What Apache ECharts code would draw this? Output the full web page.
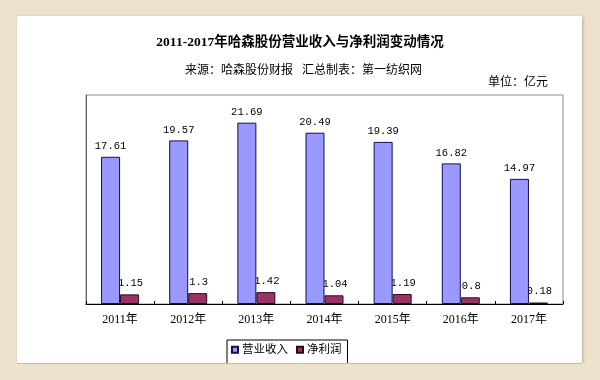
<!DOCTYPE html>
<html>
<head>
<meta charset="utf-8">
<script src="https://cdn.jsdelivr.net/npm/echarts@6/dist/echarts.min.js"></script>
<style>html,body{margin:0;padding:0;background:#efe2cc;}#c{width:600px;height:380px;}</style>
</head>
<body>
<div id="c"></div>
<script>
const categories = ['2011年','2012年','2013年','2014年','2015年','2016年','2017年'];
const revenue = [17.61, 19.57, 21.69, 20.49, 19.39, 16.82, 14.97];
const netProfit = [1.15, 1.3, 1.42, 1.04, 1.19, 0.8, 0.18];
const seriesNames = ['营业收入', '净利润'];
const titleText = '2011-2017年哈森股份营业收入与净利润变动情况';
const subText = '来源：哈森股份财报   汇总制表：第一纺织网';
const unitText = '单位：亿元';

const serif = "'Liberation Serif','Noto Sans CJK SC',serif";
const mono = "'Liberation Mono','Noto Sans CJK SC',monospace";
const chart = echarts.init(document.getElementById('c'));
chart.setOption({
  backgroundColor: '#efe2cc',
  animation: false,
  title: [
    { text: titleText, left: 'center', top: 31,
      textStyle: { fontSize: 13.5, fontWeight: 'bold', color: '#000', fontFamily: serif } },
    { text: subText, left: 180, top: 60,
      textStyle: { fontSize: 12, fontWeight: 'normal', color: '#000', fontFamily: serif } },
    { text: unitText, left: 483, top: 72,
      textStyle: { fontSize: 12, fontWeight: 'normal', color: '#000', fontFamily: serif } }
  ],
  graphic: [
    { type: 'rect', z: -10, shape: { x: 17, y: 16, width: 565, height: 347 },
      style: { fill: '#ffffff', shadowColor: 'rgba(0,0,0,0.25)', shadowBlur: 3, shadowOffsetX: 1, shadowOffsetY: 1 } },
    { type: 'rect', z: 100, shape: { x: 0, y: 363, width: 600, height: 17 },
      style: { fill: '#efe2cc' } },
    { type: 'line', z: 101, shape: { x1: 17, y1: 363.5, x2: 582, y2: 363.5 },
      style: { stroke: '#c9bba5', lineWidth: 1 } }
  ],
  legend: {
    data: seriesNames,
    left: 227, top: 340,
    orient: 'horizontal',
    itemWidth: 6, itemHeight: 6, itemGap: 8,
    padding: [4, 6, 14, 4],
    borderColor: '#000', borderWidth: 1, borderRadius: 0,
    icon: 'rect',
    textStyle: { fontSize: 11.5, color: '#000', fontFamily: serif, padding: [0, 0, 0, -1] }
  },
  grid: { left: 86, top: 95, right: 37, bottom: 76, show: true, borderColor: '#8a8a8a', borderWidth: 1, backgroundColor: 'transparent' },
  xAxis: {
    type: 'category', data: categories,
    axisLine: { lineStyle: { color: '#000', width: 1 } },
    axisTick: { show: true, inside: true, length: 3, lineStyle: { color: '#000' } },
    axisLabel: { fontSize: 12, color: '#000', fontFamily: serif, margin: 10 }
  },
  yAxis: {
    type: 'value', min: 0, max: 25,
    axisLine: { show: true, lineStyle: { color: '#666' } },
    axisTick: { show: false }, axisLabel: { show: false }, splitLine: { show: false }
  },
  series: [
    { name: seriesNames[0], type: 'bar', data: revenue, barWidth: 19, barGap: '0%', zlevel: 1,
      itemStyle: { color: '#9999ff', borderColor: '#10104a', borderWidth: 1 },
      label: { show: true, position: 'top', distance: 5, fontSize: 10.5, color: '#000', fontFamily: mono } },
    { name: seriesNames[1], type: 'bar', data: netProfit, barWidth: 19, zlevel: 0,
      itemStyle: { color: '#993366', borderColor: '#2a0a18', borderWidth: 1 },
      label: { show: true, position: 'top', distance: 6, offset: [1, 0], fontSize: 10.5, color: '#000', fontFamily: mono } }
  ]
});
</script>
</body>
</html>
